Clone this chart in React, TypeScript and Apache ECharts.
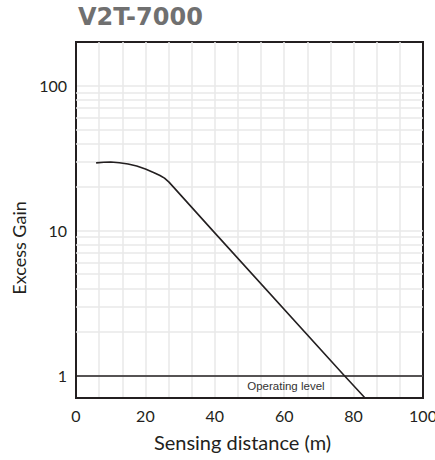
import React, { useEffect, useRef } from "react";
import * as echarts from "echarts";

// Sensing distance (m) and excess gain
const distance = [5.8, 8, 10, 12.5, 15, 17.5, 20, 22.5, 24.2, 25.5, 26.8, 39.4, 77.3, 83.3];
const gain = [29.3, 29.6, 29.7, 29.4, 28.8, 27.9, 26.6, 25.1, 24.0, 23.0, 21.6, 10, 1, 0.7];

const xLabels = [0, 20, 40, 60, 80, 100];
const yLabels = [1, 10, 100];
const minorLevels = [2, 3, 4, 5, 6, 7, 8, 9, 20, 30, 40, 50, 60, 70, 80, 90];
const operatingLevel = 1;
const titleText = "V2T-7000";

const INK = "#231f20";
const GRID = "#e8e8e8";
const FONT = "Lato, 'Noto Sans', sans-serif";

export default function App() {
  const ref = useRef<HTMLDivElement>(null);
  useEffect(() => {
    document.body.style.margin = "0";
    if (!ref.current) return;
    const chart = echarts.init(ref.current, undefined, { renderer: "svg" });
    chart.setOption({
      animation: false,
      backgroundColor: "#ffffff",
      title: {
        text: titleText,
        left: 73,
        top: 0,
        textStyle: {
          fontFamily: "'DejaVu Sans', sans-serif",
          fontWeight: "bold",
          fontSize: 24,
          color: "#707070",
        },
      },
      grid: {
        left: 76,
        right: 12,
        top: 42,
        bottom: 62,
        show: true,
        borderColor: INK,
        borderWidth: 2,
        backgroundColor: "transparent",
        outerBoundsMode: "none",
        containLabel: false,
      },
      xAxis: {
        type: "value",
        min: 0,
        max: 100,
        interval: 20 / 3,
        name: "Sensing distance (m)",
        nameLocation: "middle",
        nameGap: 34,
        nameTextStyle: { fontFamily: FONT, fontSize: 20, color: INK, padding: [0, 14, 0, 0] },
        axisLine: { show: true, lineStyle: { color: INK, width: 2 } },
        axisTick: { show: false },
        splitLine: { show: true, showMinLine: false, showMaxLine: false, lineStyle: { color: GRID, width: 1.5 } },
        axisLabel: {
          margin: 9,
          fontFamily: FONT,
          fontSize: 16,
          color: INK,
          formatter: (v: number) => {
            const r = Math.round(v);
            return Math.abs(v - r) < 1e-6 && xLabels.includes(r) ? String(r) : "";
          },
        },
      },
      yAxis: {
        type: "log",
        logBase: 10,
        min: 0.7,
        max: 200,
        name: "Excess Gain",
        nameLocation: "middle",
        nameGap: 46,
        nameTextStyle: { fontFamily: FONT, fontSize: 18, color: INK, padding: [0, 56, 0, 0] },
        axisLine: { show: true, lineStyle: { color: INK, width: 2 } },
        axisTick: { show: false },
        splitLine: { show: true, showMinLine: false, showMaxLine: false, lineStyle: { color: GRID, width: 1.5 } },
        axisLabel: {
          margin: 9,
          fontFamily: FONT,
          fontSize: 16,
          color: INK,
          showMinLabel: false,
          showMaxLabel: false,
          formatter: (v: number) => {
            const hit = yLabels.find((t) => Math.abs(v - t) / t < 1e-6);
            return hit !== undefined ? String(hit) : "";
          },
        },
      },
      series: [
        {
          type: "line",
          data: [],
          z: 1,
          silent: true,
          markLine: {
            z: 1,
            silent: true,
            symbol: ["none", "none"],
            label: { show: false },
            lineStyle: { color: GRID, width: 1.5, type: "solid" },
            data: minorLevels.map((v) => ({ yAxis: v })),
          },
        },
        {
          type: "line",
          z: 8,
          showSymbol: false,
          smooth: false,
          silent: true,
          lineStyle: { color: INK, width: 1.6 },
          data: distance.map((d, i) => [d, gain[i]]),
          markLine: {
            z: 7,
            silent: true,
            symbol: ["none", "none"],
            label: { show: false },
            lineStyle: { color: INK, width: 1.6, type: "solid" },
            data: [{ yAxis: operatingLevel }],
          },
          markPoint: {
            z: 7,
            silent: true,
            symbol: "circle",
            symbolSize: 0,
            data: [{ coord: [60.5, operatingLevel] }],
            label: {
              show: true,
              position: "bottom",
              distance: 4,
              formatter: "Operating level",
              fontFamily: "'Liberation Sans', Arial, sans-serif",
              fontSize: 11.5,
              color: "#333333",
            },
          },
        },
      ],
    });
    return () => chart.dispose();
  }, []);
  return <div ref={ref} style={{ width: 435, height: 460 }} />;
}
